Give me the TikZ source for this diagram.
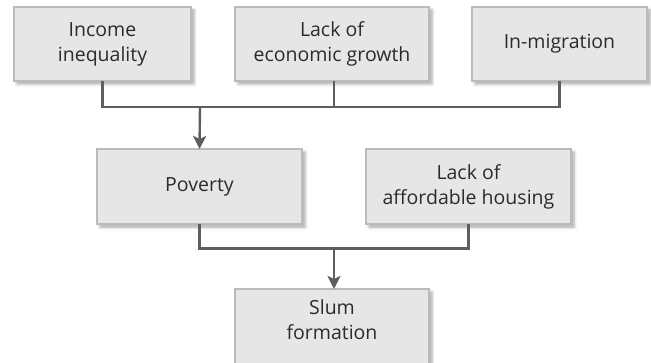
\documentclass[tikz,border=0pt]{standalone}
\usepackage{fontspec}
\setmainfont{Open Sans}
\usetikzlibrary{arrows.meta,shadows.blur}
\definecolor{boxfill}{HTML}{E6E6E6}
\definecolor{boxdraw}{HTML}{BBBBBB}
\definecolor{linec}{HTML}{5E5E5E}
\definecolor{textc}{HTML}{2B2B2B}
\tikzset{
  box/.style={draw=boxdraw, line width=1.2pt, fill=boxfill, anchor=north west,
    inner sep=0pt, outer sep=0pt, align=center, text=textc,
    font=\fontsize{19.5}{25}\selectfont,
    blur shadow={shadow xshift=3pt, shadow yshift=-3pt, shadow blur radius=3pt, shadow opacity=35}},
  conn/.style={draw=linec, line width=2.4pt},
  arr/.style={conn, -{Stealth[length=13pt,width=13pt,inset=3pt]}}
}
\begin{document}
\begin{tikzpicture}[x=1pt,y=-1pt]
\useasboundingbox (0,0) rectangle (651,363);
\clip (0,0) rectangle (651,363);
\node[box, minimum width=177pt, minimum height=74pt] (inc) at (14,7) {Income\\inequality};
\node[box, minimum width=194pt, minimum height=74pt] (eco) at (235,7) {Lack of\\economic growth};
\node[box, minimum width=175pt, minimum height=74pt] (mig) at (472,7) {In-migration};
\node[box, minimum width=205pt, minimum height=75pt] (pov) at (97,149) {Poverty};
\node[box, minimum width=205pt, minimum height=75pt] (hou) at (366,149) {Lack of\\affordable housing};
\node[box, minimum width=194pt, minimum height=80pt, text height=0pt, text depth=0pt] (slum) at (235,289) {\raisebox{1.5pt}[0pt][0pt]{\begin{tabular}{@{}c@{}}Slum\\formation\end{tabular}}};
\coordinate (j1) at (200,107);
\coordinate (j2) at (334,248.5);
\draw[conn] (inc.south) |- (mig.south |- j1) -- (mig.south);
\draw[conn] (eco.south -| 334,0) -- (334,107);
\draw[arr] (j1) -- (pov.north);
\draw[conn] (pov.south) |- (hou.south |- j2) -- (hou.south);
\draw[arr] (j2) -- (slum.north -| j2);
\end{tikzpicture}
\end{document}
